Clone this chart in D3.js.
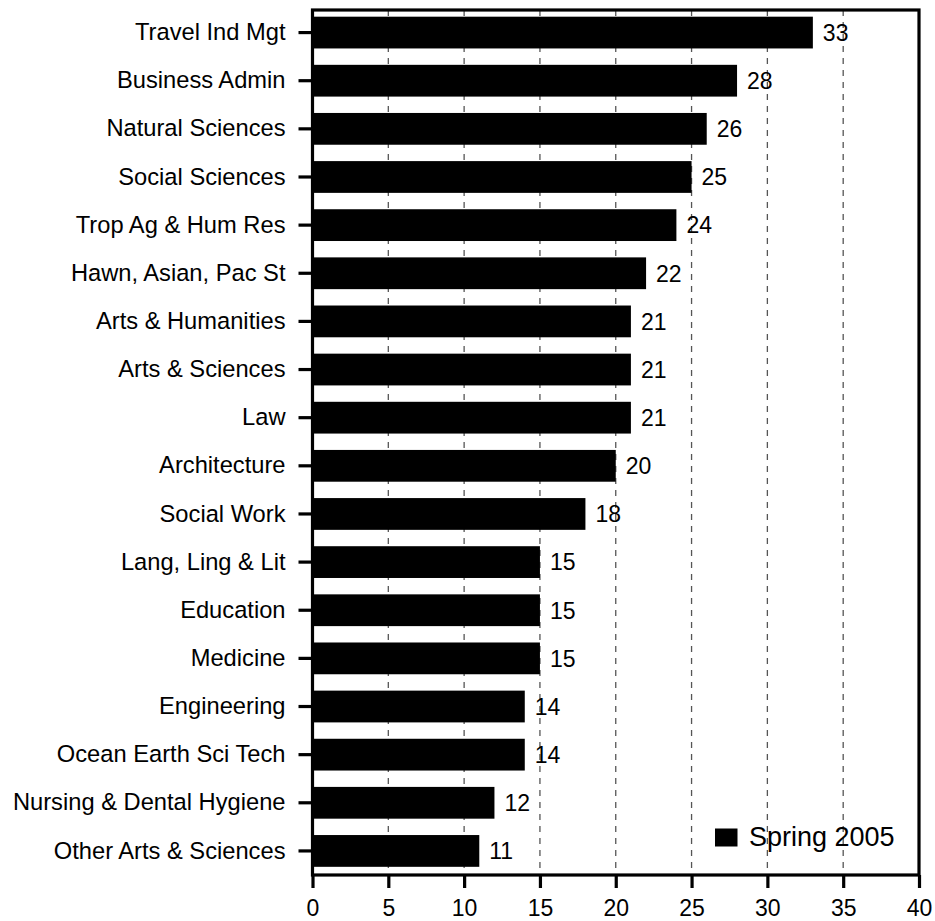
<!DOCTYPE html>
<html>
<head>
<meta charset="utf-8">
<script src="https://cdn.jsdelivr.net/npm/d3@7"></script>
<style>
  html, body { margin: 0; padding: 0; background: #fff; }
  svg { display: block; }
  text { font-family: "Liberation Sans", Arial, Helvetica, sans-serif; fill: #000; }
</style>
</head>
<body>
<svg id="chart" width="935" height="921"></svg>
<script>
const categories = ["Travel Ind Mgt","Business Admin","Natural Sciences","Social Sciences","Trop Ag & Hum Res","Hawn, Asian, Pac St","Arts & Humanities","Arts & Sciences","Law","Architecture","Social Work","Lang, Ling & Lit","Education","Medicine","Engineering","Ocean Earth Sci Tech","Nursing & Dental Hygiene","Other Arts & Sciences"];
const values = [33,28,26,25,24,22,21,21,21,20,18,15,15,15,14,14,12,11];
const xTicks = [0,5,10,15,20,25,30,35,40];
const gridTicks = [5,10,15,20,25,30,35];
const seriesName = "Spring 2005";

const svg = d3.select("#chart");
const mLeft = 312.5, mRight = 919, mTop = 8.5, mBottom = 875;

const x = d3.scaleLinear().domain([0, 40]).range([mLeft, mRight]);
const y = d3.scaleBand().domain(categories).range([mTop, mBottom]).paddingInner(0.34).paddingOuter(0.17);

// gridlines
svg.append("g").selectAll("line").data(gridTicks).join("line")
  .attr("x1", d => x(d)).attr("x2", d => x(d))
  .attr("y1", mTop + 1.5).attr("y2", mBottom)
  .attr("stroke", "#555").attr("stroke-width", 1.3)
  .attr("stroke-dasharray", "6,6");

// bars
const data = categories.map((c, i) => ({c, v: values[i]}));
svg.append("g").selectAll("rect").data(data).join("rect")
  .attr("x", x(0)).attr("y", d => y(d.c))
  .attr("width", d => x(d.v) - x(0)).attr("height", y.bandwidth())
  .attr("fill", "#000");

// value labels
svg.append("g").selectAll("text").data(data).join("text")
  .attr("x", d => x(d.v) + 10).attr("y", d => y(d.c) + y.bandwidth() / 2)
  .attr("dy", "0.36em").attr("font-size", 23)
  .text(d => d.v);

// frame
svg.append("rect").attr("x", mLeft).attr("y", mTop + 1.5)
  .attr("width", mRight - mLeft).attr("height", mBottom - mTop - 1.5)
  .attr("fill", "none").attr("stroke", "#000").attr("stroke-width", 3.2);

// x axis
const xAxis = d3.axisBottom(x).tickValues(xTicks).tickSize(13).tickPadding(12).tickFormat(d3.format("d"));
const gx = svg.append("g").attr("transform", `translate(0,${mBottom})`).call(xAxis);
gx.select(".domain").remove();
gx.selectAll(".tick line").attr("stroke", "#000").attr("stroke-width", 3.2);
gx.selectAll(".tick text").attr("font-size", 23).attr("font-family", "Liberation Sans, Arial, sans-serif").attr("fill", "#000");

// y axis
const yAxis = d3.axisLeft(y).tickSize(14).tickPadding(13);
const gy = svg.append("g").attr("transform", `translate(${mLeft},0)`).call(yAxis);
gy.select(".domain").remove();
gy.selectAll(".tick line").attr("stroke", "#000").attr("stroke-width", 3.2);
gy.selectAll(".tick text").attr("font-size", 23.7).attr("font-family", "Liberation Sans, Arial, sans-serif").attr("fill", "#000");

// legend
const lg = svg.append("g");
lg.append("rect").attr("x", 715).attr("y", 828.5).attr("width", 22.5).attr("height", 18).attr("fill", "#000");
lg.append("text").attr("x", 749).attr("y", 846).attr("font-size", 27).text(seriesName);
</script>
</body>
</html>
